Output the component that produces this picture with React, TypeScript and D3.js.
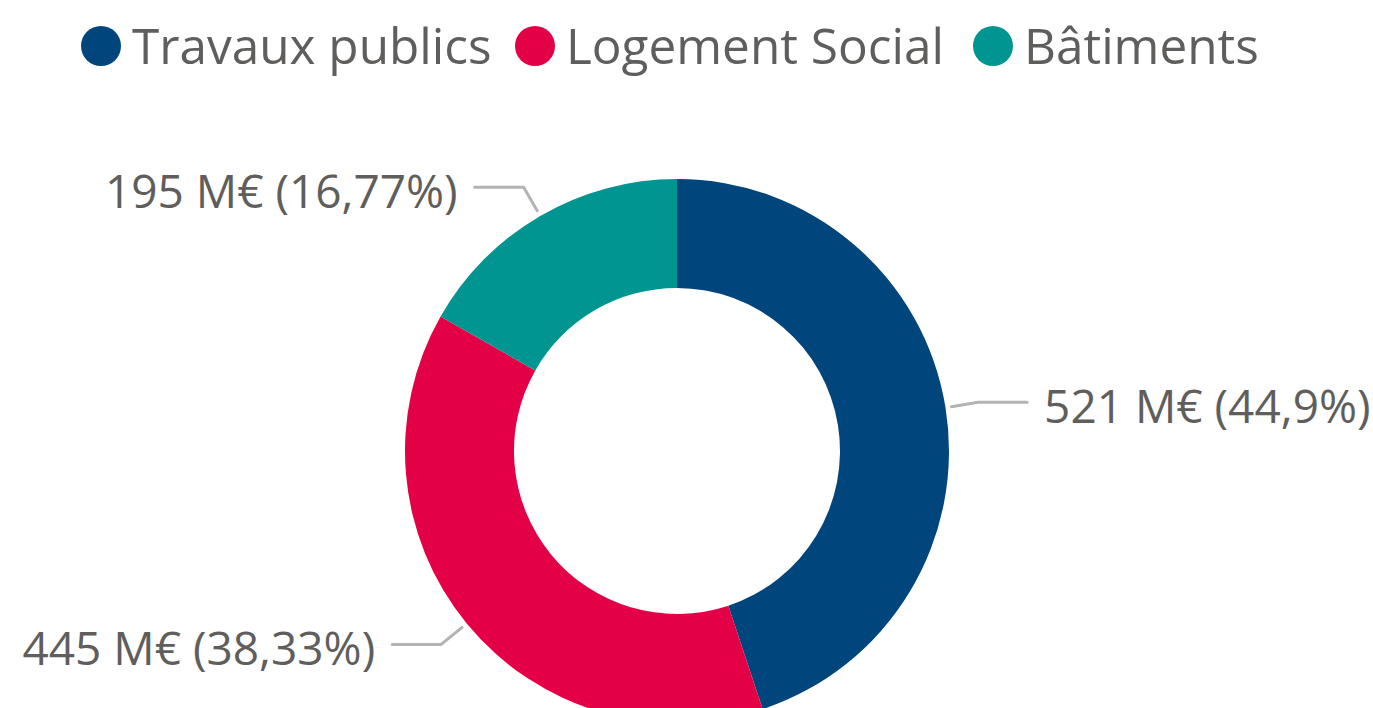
import React from "react";
import * as d3 from "d3";

const categories = ["Travaux publics", "Logement Social", "Bâtiments"];
const valuesME = [521, 445, 195];
const percents = [44.9, 38.33, 16.77];
const colors = ["#00457b", "#e40046", "#009591"];

const W = 1373;
const H = 708;
const FONT = "'Segoe UI', 'Open Sans', 'Noto Sans', sans-serif";
const TEXT = "#605e5c";

export default function App() {
  const cx = 677;
  const cy = 451;
  const R = 272;
  const r = 163;

  const pie = d3
    .pie<number>()
    .sort(null)
    .value((d) => d)
    .startAngle(0)
    .endAngle(2 * Math.PI);
  const arcs = pie(percents);
  const arc = d3.arc<d3.PieArcDatum<number>>().innerRadius(r).outerRadius(R);

  const pt = (a: number, rad: number) => [rad * Math.sin(a), -rad * Math.cos(a)];

  // legend layout
  const legendX = [101, 535, 993];
  const legendY = 46;

  return (
    <svg
      width={W}
      height={H}
      style={{ position: "absolute", left: 0, top: 0, display: "block", background: "#fff" }}
    >
      <g>
        {categories.map((c, i) => (
          <g key={c}>
            <circle cx={legendX[i]} cy={legendY} r={20} fill={colors[i]} />
            <text
              x={legendX[i] + 31}
              y={legendY + 18}
              fontFamily={FONT}
              fontSize={49.5}
              fill={TEXT}
            >
              {c}
            </text>
          </g>
        ))}
      </g>
      <g transform={`translate(${cx},${cy})`}>
        {arcs.map((a, i) => (
          <path key={i} d={arc(a) || ""} fill={colors[i]} />
        ))}
        {arcs.map((a, i) => {
          const mid = (a.startAngle + a.endAngle) / 2;
          const p0 = pt(mid, R + 6);
          const p1 = pt(mid, R + 33);
          const right = Math.sin(mid) > 0;
          const p2 = [p1[0] + (right ? 49 : -49), p1[1]];
          const label = `${valuesME[i]} M€ (${String(percents[i]).replace(".", ",")}%)`;
          return (
            <g key={"l" + i}>
              <polyline
                points={[p0, p1, p2].map((p) => p.join(",")).join(" ")}
                fill="none"
                stroke="#b3b3b3"
                strokeWidth={3}
                strokeLinecap="round"
                strokeLinejoin="round"
              />
              <text
                x={p2[0] + (right ? 17 : -17)}
                y={p2[1] + 21}
                textAnchor={right ? "start" : "end"}
                fontFamily={FONT}
                fontSize={46}
                fill={TEXT}
              >
                {label}
              </text>
            </g>
          );
        })}
      </g>
    </svg>
  );
}
